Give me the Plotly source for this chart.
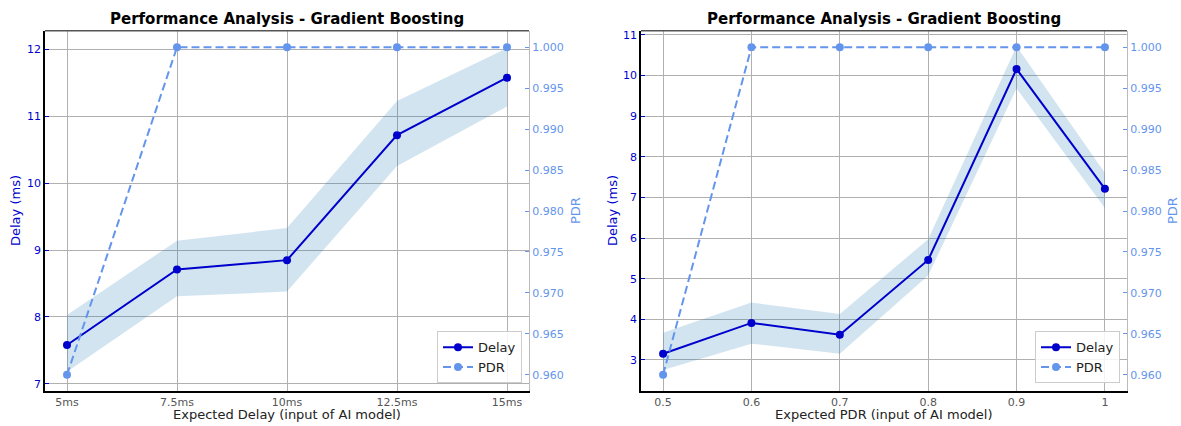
import plotly.graph_objects as go

# ---------------- data ----------------
delay_labels = ["5ms", "7.5ms", "10ms", "12.5ms", "15ms"]
delay_a = [7.58, 8.71, 8.85, 10.72, 11.58]
delay_a_low = [7.18, 8.31, 8.38, 10.26, 11.15]
delay_a_high = [8.03, 9.14, 9.33, 11.23, 12.02]
pdr_a = [0.960, 1.000, 1.000, 1.000, 1.000]

pdr_labels = ["0.5", "0.6", "0.7", "0.8", "0.9", "1"]
delay_b = [3.15, 3.91, 3.62, 5.46, 10.16, 7.21]
delay_b_low = [2.75, 3.40, 3.15, 5.08, 9.68, 6.74]
delay_b_high = [3.67, 4.41, 4.13, 5.97, 10.72, 7.60]
pdr_b = [0.960, 1.000, 1.000, 1.000, 1.000, 1.000]

W, H = 1181, 426
DELAY_C = "#0000CD"
PDR_C = "#6495ED"
BAND_C = "rgba(31,119,180,0.2)"
FONT = "DejaVu Sans"

fig = go.Figure()


def add_panel(labels, mean, low, high, pdr, xa, ya, ya2, legend):
    xs = list(range(len(labels)))
    fig.add_trace(go.Scatter(x=xs, y=high, xaxis=xa, yaxis=ya, mode="lines",
                             line=dict(width=0, color=BAND_C), showlegend=False,
                             hoverinfo="skip"))
    fig.add_trace(go.Scatter(x=xs, y=low, xaxis=xa, yaxis=ya, mode="lines",
                             line=dict(width=0, color=BAND_C), fill="tonexty",
                             fillcolor=BAND_C, showlegend=False, hoverinfo="skip"))
    fig.add_trace(go.Scatter(x=xs, y=mean, xaxis=xa, yaxis=ya, mode="lines+markers",
                             name="Delay", legend=legend,
                             line=dict(color=DELAY_C, width=2),
                             marker=dict(color=DELAY_C, size=8)))
    fig.add_trace(go.Scatter(x=xs, y=pdr, xaxis=xa, yaxis=ya2, mode="lines+markers",
                             name="PDR", legend=legend,
                             line=dict(color=PDR_C, width=2, dash="8px,4px"),
                             marker=dict(color=PDR_C, size=8)))


add_panel(delay_labels, delay_a, delay_a_low, delay_a_high, pdr_a, "x", "y", "y2", "legend")
add_panel(pdr_labels, delay_b, delay_b_low, delay_b_high, pdr_b, "x2", "y3", "y4", "legend2")

ydom = [1 - 391 / H, 1 - 29 / H]
dA = [45 / W, 529 / W]
dB = [641 / W, 1127 / W]

xcommon = dict(showgrid=True, gridcolor="#b0b0b0", gridwidth=1, zeroline=False,
               showline=True, linecolor="#000000", linewidth=1.5, ticks="",
               tickfont=dict(family=FONT, size=11, color="#555555"))
yleft = dict(showgrid=True, gridcolor="#b0b0b0", gridwidth=1, zeroline=False,
             showline=True, linecolor="#000000", linewidth=1.5,
             ticks="inside", ticklen=4, tickcolor=DELAY_C, tickwidth=1,
             tickfont=dict(family=FONT, size=11, color=DELAY_C))
yright = dict(showgrid=False, zeroline=False, showline=True, linecolor="#bbbbbb",
              linewidth=1, side="right", ticks="inside", ticklen=4,
              tickcolor=PDR_C, tickwidth=1, tickformat=".3f",
              tickvals=[0.960, 0.965, 0.970, 0.975, 0.980, 0.985, 0.990, 0.995, 1.000],
              tickfont=dict(family=FONT, size=11, color=PDR_C), range=[0.958, 1.002])

legend_common = dict(y=1 - 383 / H, xanchor="right", yanchor="bottom",
                     traceorder="normal", tracegroupgap=0,
                     bgcolor="rgba(255,255,255,0.85)", bordercolor="#cccccc", borderwidth=1,
                     font=dict(family=FONT, size=13, color="#222222"))

fig.update_layout(
    width=W, height=H,
    margin=dict(l=0, r=0, t=0, b=0),
    paper_bgcolor="white", plot_bgcolor="white",
    font=dict(family=FONT),
    xaxis=dict(domain=dA, anchor="y", range=[-0.2, 4.2],
               tickvals=list(range(len(delay_labels))), ticktext=delay_labels, **xcommon),
    yaxis=dict(domain=ydom, anchor="x", range=[6.89, 12.28], dtick=1, **yleft),
    yaxis2=dict(overlaying="y", anchor="x", **yright),
    xaxis2=dict(domain=dB, anchor="y3", range=[-0.25, 5.25],
                tickvals=list(range(len(pdr_labels))), ticktext=pdr_labels, **xcommon),
    yaxis3=dict(domain=ydom, anchor="x2", range=[2.23, 11.1], dtick=1, **yleft),
    yaxis4=dict(overlaying="y3", anchor="x2", **yright),
    legend=dict(x=522 / W, **legend_common),
    legend2=dict(x=1120 / W, **legend_common),
)

# top spines
for d in (dA, dB):
    fig.add_shape(type="line", xref="paper", yref="paper", x0=d[0], x1=d[1],
                  y0=ydom[1], y1=ydom[1], line=dict(color="#555555", width=1.5))

anns = []
for d, xtitle in ((dA, "Expected Delay (input of AI model)"), (dB, "Expected PDR (input of AI model)")):
    cx = (d[0] + d[1]) / 2
    anns.append(dict(text="<b>Performance Analysis - Gradient Boosting</b>", x=cx, y=1 - 17 / H,
                     xref="paper", yref="paper", showarrow=False, xanchor="center",
                     yanchor="middle", font=dict(family=FONT, size=15, color="#000000")))
    anns.append(dict(text=xtitle, x=cx, y=1 - 414 / H, xref="paper", yref="paper",
                     showarrow=False, xanchor="center", yanchor="middle",
                     font=dict(family=FONT, size=13, color="#222222")))
anns.append(dict(text="Delay (ms)", x=15 / W, y=1 - 210 / H, xref="paper", yref="paper",
                 showarrow=False, textangle=-90, xanchor="center", yanchor="middle",
                 font=dict(family=FONT, size=13, color=DELAY_C)))
anns.append(dict(text="PDR", x=575 / W, y=1 - 210 / H, xref="paper", yref="paper",
                 showarrow=False, textangle=-90, xanchor="center", yanchor="middle",
                 font=dict(family=FONT, size=13, color=PDR_C)))
anns.append(dict(text="Delay (ms)", x=612 / W, y=1 - 210 / H, xref="paper", yref="paper",
                 showarrow=False, textangle=-90, xanchor="center", yanchor="middle",
                 font=dict(family=FONT, size=13, color=DELAY_C)))
anns.append(dict(text="PDR", x=1172 / W, y=1 - 210 / H, xref="paper", yref="paper",
                 showarrow=False, textangle=-90, xanchor="center", yanchor="middle",
                 font=dict(family=FONT, size=13, color=PDR_C)))
fig.update_layout(annotations=anns)

fig.write_html("out.html")
